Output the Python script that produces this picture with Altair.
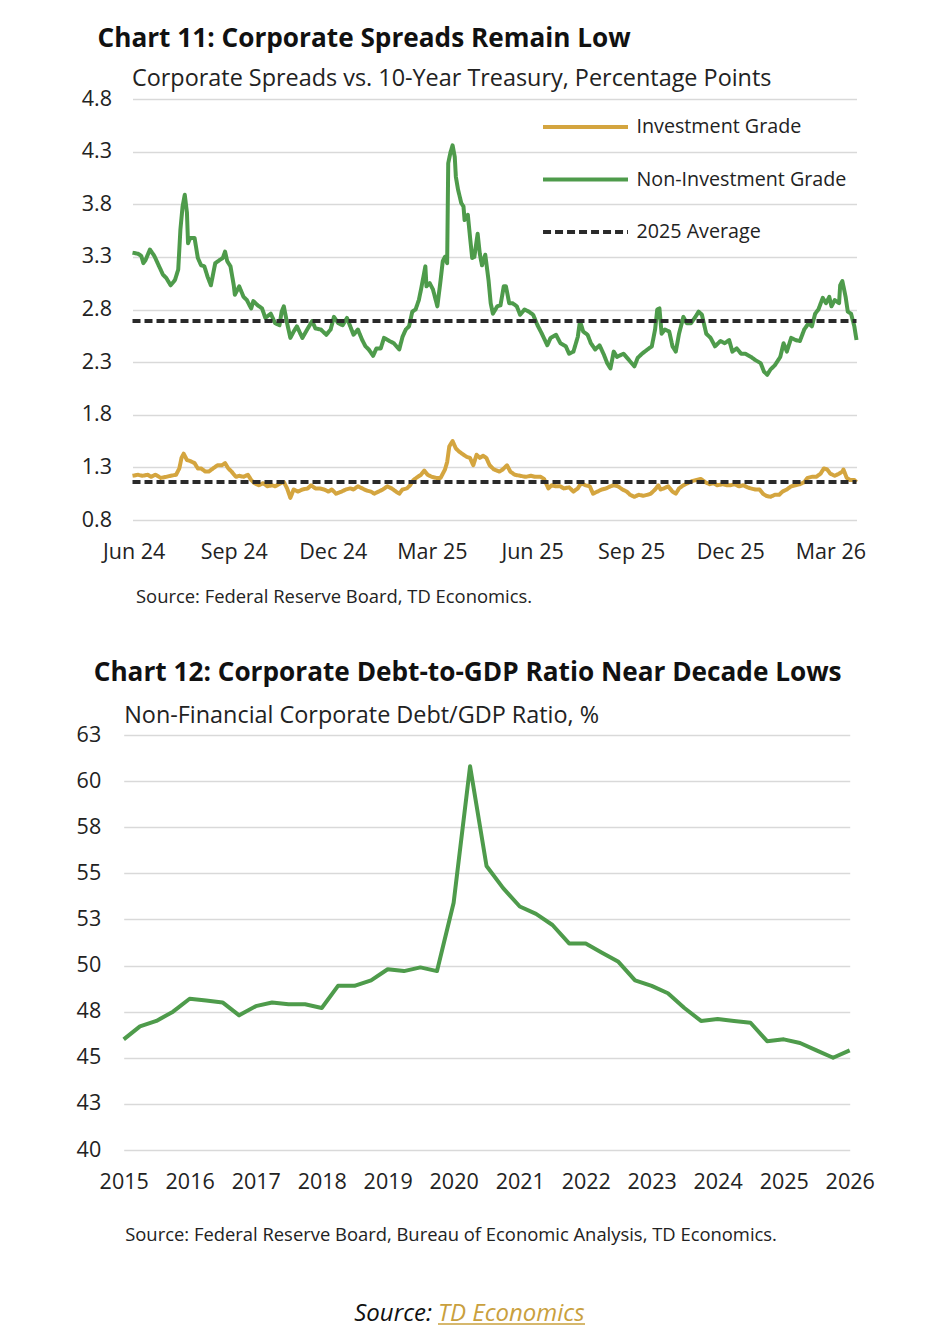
import altair as alt
import pandas as pd

FONT = "Open Sans"
TXT = "#222222"
GRID = "#d9d9d9"
GREEN = "#4e9b4b"

# ---------------- Chart 11 data ----------------
SERIES = ["Investment Grade", "Non-Investment Grade", "2025 Average"]
SERIES_COLORS = ["#d4a53f", GREEN, "#2a2a2a"]
SERIES_DASH = [[1, 0], [1, 0], [8, 4]]
SERIES_WIDTH = [4, 4, 2.6]

START_DATE = "2024-06-18"

HY_DAY = [0, 5, 8, 10, 12, 16, 20, 24, 28, 31, 35, 39, 42, 44, 46, 48, 50, 51, 53, 57,
          60, 63, 66, 69, 72, 76, 80, 83, 85, 87, 90, 93, 94, 98, 102, 105, 109, 111, 115, 119,
          122, 127, 131, 135, 137, 139, 142, 145, 148, 151, 156, 161, 165, 168, 173, 178, 182, 185, 189, 193,
          197, 200, 203, 207, 211, 214, 217, 221, 224, 228, 231, 236, 240, 245, 248, 251, 254, 257, 260, 263,
          265, 269, 270, 273, 276, 280, 283, 285, 287, 289, 290, 292, 294, 296, 297, 299, 302, 304, 305, 308,
          310, 312, 314, 317, 319, 321, 324, 327, 329, 331, 335, 338, 341, 343, 346, 349, 353, 356, 360, 364,
          368, 372, 376, 381, 384, 389, 393, 398, 401, 405, 409, 411, 414, 418, 421, 425, 429, 433, 436, 439,
          442, 445, 451, 456, 461, 464, 468, 473, 477, 480, 482, 484, 486, 489, 493, 496, 499, 502, 506, 509,
          513, 517, 520, 523, 527, 531, 535, 540, 544, 548, 551, 555, 559, 563, 568, 572, 577, 580, 583, 586,
          590, 595, 598, 601, 605, 609, 613, 617, 621, 624, 627, 630, 634, 637, 640, 642, 645, 649, 650, 652,
          655, 657, 660, 663, 665]
HY_VAL = [3.34, 3.33, 3.31, 3.24, 3.27, 3.37, 3.31, 3.22, 3.13, 3.10, 3.03, 3.08, 3.18, 3.56, 3.78, 3.89, 3.72, 3.43, 3.48, 3.48,
          3.29, 3.22, 3.21, 3.11, 3.03, 3.24, 3.27, 3.29, 3.35, 3.26, 3.21, 3.03, 2.94, 3.02, 2.92, 2.89, 2.81, 2.88, 2.84, 2.81,
          2.72, 2.76, 2.67, 2.65, 2.78, 2.83, 2.67, 2.53, 2.59, 2.64, 2.53, 2.62, 2.69, 2.62, 2.61, 2.56, 2.61, 2.73, 2.67, 2.65,
          2.72, 2.64, 2.56, 2.61, 2.51, 2.45, 2.42, 2.36, 2.43, 2.43, 2.53, 2.50, 2.48, 2.42, 2.54, 2.61, 2.64, 2.78, 2.80, 2.89,
          2.99, 3.21, 3.02, 3.05, 2.99, 2.83, 3.08, 3.26, 3.30, 3.24, 4.19, 4.29, 4.36, 4.25, 4.06, 3.94, 3.81, 3.78, 3.65, 3.70,
          3.49, 3.29, 3.30, 3.52, 3.33, 3.22, 3.32, 3.08, 2.86, 2.76, 2.83, 2.84, 3.02, 3.02, 2.86, 2.86, 2.83, 2.75, 2.80, 2.78,
          2.75, 2.65, 2.57, 2.46, 2.53, 2.56, 2.48, 2.45, 2.38, 2.40, 2.54, 2.69, 2.59, 2.56, 2.48, 2.42, 2.46, 2.37, 2.29, 2.24,
          2.40, 2.35, 2.38, 2.32, 2.26, 2.34, 2.38, 2.42, 2.45, 2.61, 2.80, 2.81, 2.57, 2.61, 2.59, 2.45, 2.40, 2.57, 2.73, 2.67,
          2.67, 2.73, 2.78, 2.75, 2.57, 2.53, 2.45, 2.50, 2.48, 2.51, 2.40, 2.43, 2.38, 2.38, 2.35, 2.32, 2.29, 2.21, 2.18, 2.23,
          2.27, 2.35, 2.48, 2.40, 2.53, 2.51, 2.50, 2.61, 2.67, 2.64, 2.76, 2.80, 2.91, 2.86, 2.92, 2.83, 2.89, 2.86, 3.03, 3.07,
          2.92, 2.78, 2.76, 2.64, 2.51]

IG_DAY = [0, 5, 9, 14, 17, 21, 26, 31, 35, 40, 43, 45, 47, 50, 53, 57, 60, 63, 67, 70,
          74, 78, 82, 85, 88, 91, 95, 98, 102, 106, 109, 112, 116, 120, 124, 128, 131, 136, 139, 142,
          145, 148, 152, 156, 161, 164, 168, 172, 176, 180, 183, 187, 192, 196, 200, 203, 207, 211, 215, 219,
          222, 226, 230, 234, 238, 242, 245, 248, 252, 255, 258, 262, 265, 268, 271, 275, 279, 283, 287, 289,
          291, 294, 297, 300, 304, 307, 310, 313, 316, 319, 322, 325, 328, 332, 337, 340, 344, 347, 351, 356,
          361, 366, 370, 375, 378, 382, 385, 389, 393, 396, 401, 405, 409, 412, 416, 420, 423, 427, 431, 435,
          439, 442, 446, 450, 454, 457, 461, 465, 469, 473, 476, 480, 483, 485, 488, 492, 496, 499, 502, 506,
          510, 514, 518, 522, 526, 530, 534, 537, 542, 546, 549, 553, 557, 561, 565, 568, 572, 576, 579, 582,
          586, 590, 594, 597, 601, 605, 609, 613, 617, 620, 624, 628, 632, 635, 638, 641, 645, 649, 652, 653,
          656, 659, 663, 665]
IG_VAL = [1.22, 1.23, 1.22, 1.23, 1.21, 1.23, 1.20, 1.21, 1.22, 1.23, 1.29, 1.39, 1.43, 1.37, 1.36, 1.34, 1.29, 1.29, 1.26, 1.26,
          1.29, 1.32, 1.32, 1.34, 1.29, 1.26, 1.21, 1.22, 1.21, 1.23, 1.18, 1.15, 1.13, 1.15, 1.12, 1.13, 1.12, 1.15, 1.16, 1.10,
          1.01, 1.09, 1.07, 1.09, 1.10, 1.13, 1.10, 1.10, 1.09, 1.07, 1.09, 1.05, 1.07, 1.09, 1.10, 1.09, 1.12, 1.10, 1.08, 1.07,
          1.05, 1.07, 1.09, 1.12, 1.10, 1.07, 1.05, 1.09, 1.10, 1.13, 1.18, 1.21, 1.23, 1.27, 1.23, 1.21, 1.20, 1.20, 1.28, 1.35,
          1.50, 1.55, 1.48, 1.45, 1.42, 1.40, 1.39, 1.32, 1.42, 1.39, 1.41, 1.39, 1.32, 1.28, 1.26, 1.28, 1.32, 1.26, 1.23, 1.22,
          1.21, 1.22, 1.21, 1.21, 1.19, 1.10, 1.13, 1.12, 1.12, 1.10, 1.11, 1.07, 1.10, 1.15, 1.13, 1.12, 1.05, 1.07, 1.09, 1.10,
          1.12, 1.13, 1.12, 1.09, 1.07, 1.04, 1.02, 1.04, 1.03, 1.04, 1.05, 1.09, 1.13, 1.09, 1.10, 1.12, 1.07, 1.05, 1.10, 1.13,
          1.15, 1.17, 1.18, 1.19, 1.16, 1.14, 1.15, 1.13, 1.14, 1.13, 1.13, 1.14, 1.12, 1.13, 1.11, 1.10, 1.09, 1.09, 1.05, 1.03,
          1.02, 1.04, 1.04, 1.07, 1.09, 1.12, 1.13, 1.14, 1.16, 1.20, 1.21, 1.21, 1.24, 1.29, 1.28, 1.24, 1.22, 1.24, 1.26, 1.28,
          1.20, 1.18, 1.18, 1.16]

HY_AVG_2025 = 2.69
IG_AVG_2025 = 1.16

Y1_TICKS = [0.8, 1.3, 1.8, 2.3, 2.8, 3.3, 3.8, 4.3, 4.8]
X1_TICKS = ["2024-06-19", "2024-09-19", "2024-12-19", "2025-03-20",
            "2025-06-20", "2025-09-19", "2025-12-19", "2026-03-21"]

# ---------------- Chart 12 data ----------------
DEBT_START = "2015-01-01"
DEBT_VAL = [46.0, 46.7, 47.0, 47.5, 48.2, 48.1, 48.0, 47.3, 47.8, 48.0, 47.9, 47.9,
            47.7, 48.9, 48.9, 49.2, 49.8, 49.7, 49.9, 49.7, 53.4, 60.8, 55.4, 54.2,
            53.2, 52.8, 52.2, 51.2, 51.2, 50.7, 50.2, 49.2, 48.9, 48.5, 47.7, 47.0,
            47.1, 47.0, 46.9, 45.9, 46.0, 45.8, 45.4, 45.0, 45.4]
Y2_TICKS = [40, 42.5, 45, 47.5, 50, 52.5, 55, 57.5, 60, 62.5]
X2_YEARS = list(range(2015, 2027))


def dt(ts):
    ts = pd.Timestamp(ts)
    return alt.DateTime(year=ts.year, month=ts.month, date=ts.day)


start = pd.Timestamp(START_DATE)
end = start + pd.Timedelta(days=max(HY_DAY))

ig = pd.DataFrame({"date": start + pd.to_timedelta(IG_DAY, unit="D"), "value": IG_VAL,
                   "series": SERIES[0], "grp": "a_ig"})
hy = pd.DataFrame({"date": start + pd.to_timedelta(HY_DAY, unit="D"), "value": HY_VAL,
                   "series": SERIES[1], "grp": "b_hy"})
avg = pd.DataFrame({"date": [start, end, start, end],
                    "value": [IG_AVG_2025, IG_AVG_2025, HY_AVG_2025, HY_AVG_2025],
                    "series": SERIES[2], "grp": ["c_ig", "c_ig", "d_hy", "d_hy"]})
df1 = pd.concat([ig, hy, avg], ignore_index=True)
df1["date"] = df1["date"].dt.strftime("%Y-%m-%d")

legend1 = alt.Legend(
    title=None, orient="none", legendX=440, legendY=15,
    symbolType="M-4,0H4", symbolSize=451, symbolStrokeWidth=4,
    labelFont=FONT, labelFontSize=19.7, labelColor=TXT, labelOffset=38,
    labelLimit=400, rowPadding=29.5, padding=0,
)

chart1 = alt.Chart(df1).mark_line(strokeJoin="round", strokeCap="butt").encode(
    x=alt.X("date:T",
            scale=alt.Scale(domain=[dt(start), dt(end)], nice=False),
            axis=alt.Axis(values=[dt(t) for t in X1_TICKS], format="%b %y",
                          labelFontSize=21.5, labelPadding=21, grid=False,
                          labelFlush=False,
                          title="Source: Federal Reserve Board, TD Economics.",
                          titleFontSize=18.4, titleFontWeight="normal",
                          titleAngle=0, titleAlign="left", titleBaseline="middle",
                          titleX=3, titleY=76)),
    y=alt.Y("value:Q",
            scale=alt.Scale(domain=[0.8, 4.8], nice=False, zero=False),
            axis=alt.Axis(values=Y1_TICKS, format=".1f", labelFontSize=21.5,
                          labelPadding=21, minExtent=60, grid=True,
                          gridColor=GRID, gridWidth=1.6,
                          title="Corporate Spreads vs. 10-Year Treasury, Percentage Points",
                          titleFontSize=23.4, titleFontWeight="normal",
                          titleAngle=0, titleAlign="left", titleBaseline="alphabetic",
                          titleX=-1, titleY=-14)),
    color=alt.Color("series:N", scale=alt.Scale(domain=SERIES, range=SERIES_COLORS),
                    legend=legend1),
    strokeDash=alt.StrokeDash("series:N", scale=alt.Scale(domain=SERIES, range=SERIES_DASH),
                              legend=legend1),
    strokeWidth=alt.StrokeWidth("series:N", scale=alt.Scale(domain=SERIES, range=SERIES_WIDTH),
                                legend=legend1),
    detail="grp:N",
).properties(
    width=724, height=421,
    title=alt.TitleParams("Chart 11: Corporate Spreads Remain Low", fontSize=26.2,
                          fontWeight="bold", anchor="start", frame="group", dx=-35, offset=13.6,
                          color="#111111", font=FONT),
)

# ---------------- Chart 12 ----------------
df2 = pd.DataFrame({"date": pd.date_range(DEBT_START, periods=len(DEBT_VAL), freq="QS").strftime("%Y-%m-%d"),
                    "value": DEBT_VAL})

chart2 = alt.Chart(df2).mark_line(color=GREEN, strokeWidth=4, strokeJoin="round").encode(
    x=alt.X("date:T",
            scale=alt.Scale(domain=[dt("2015-01-01"), dt("2026-01-01")], nice=False),
            axis=alt.Axis(values=[alt.DateTime(year=y, month=1, date=1) for y in X2_YEARS],
                          format="%Y", labelFontSize=21.5, labelPadding=21, grid=False,
                          labelFlush=False,
                          title="Source: Federal Reserve Board, Bureau of Economic Analysis, TD Economics.",
                          titleFontSize=18.4, titleFontWeight="normal",
                          titleAngle=0, titleAlign="left", titleBaseline="middle",
                          titleX=1, titleY=84)),
    y=alt.Y("value:Q",
            scale=alt.Scale(domain=[40, 62.5], nice=False, zero=False),
            axis=alt.Axis(values=Y2_TICKS, format=".0f", labelFontSize=21.5,
                          labelPadding=23, minExtent=50, grid=True,
                          gridColor=GRID, gridWidth=1.6,
                          title="Non-Financial Corporate Debt/GDP Ratio, %",
                          titleFontSize=23.4, titleFontWeight="normal",
                          titleAngle=0, titleAlign="left", titleBaseline="alphabetic",
                          titleX=0, titleY=-13)),
).properties(
    width=726, height=415,
    title=alt.TitleParams("Chart 12: Corporate Debt-to-GDP Ratio Near Decade Lows", fontSize=26.2,
                          fontWeight="bold", anchor="start", frame="group", dx=-30, offset=16.6,
                          color="#111111", font=FONT),
)

# ---------------- bottom source line ----------------
SRC_LABEL = ["Source:"]
SRC_LINK = ["TD Economics"]
LINK_COLOR = "#c9a03d"

t_src = alt.Chart(pd.DataFrame({"t": SRC_LABEL})).mark_text(
    align="right", baseline="alphabetic", font=FONT, fontStyle="italic",
    fontSize=24, color="#111111").encode(text="t:N", x=alt.value(333), y=alt.value(23))
t_link = alt.Chart(pd.DataFrame({"t": SRC_LINK})).mark_text(
    align="left", baseline="alphabetic", font=FONT, fontStyle="italic",
    fontSize=24, color=LINK_COLOR).encode(text="t:N", x=alt.value(339), y=alt.value(23))
u_link = alt.Chart(pd.DataFrame({"t": SRC_LINK})).mark_rule(
    color=LINK_COLOR, strokeWidth=1.5).encode(x=alt.value(339), x2=alt.value(486), y=alt.value(26))
chart3 = alt.layer(t_src, t_link, u_link).properties(width=800, height=30)

chart = alt.vconcat(chart1, chart2, chart3, spacing=54, center=True).resolve_scale(
    color="independent", strokeDash="independent", strokeWidth="independent",
).resolve_legend(
    color="independent", strokeDash="independent", strokeWidth="independent",
).properties(
    padding={"left": 64, "top": 18, "right": 0, "bottom": 0},
    background="white",
).configure_view(stroke=None).configure_axis(
    labelFont=FONT, titleFont=FONT, labelColor=TXT, titleColor=TXT,
    domain=False, ticks=False,
)

chart.save("out.html", embed_options={"renderer": "svg", "actions": False})
